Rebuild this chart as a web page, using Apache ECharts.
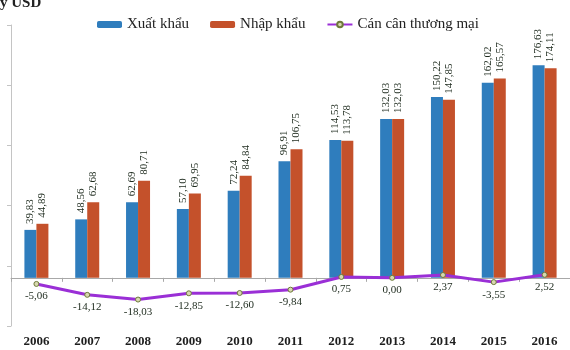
<!DOCTYPE html>
<html><head><meta charset="utf-8">
<script src="https://cdn.jsdelivr.net/npm/echarts@6/dist/echarts.min.js"></script>
<style>html,body{margin:0;padding:0;background:#fff}#c{width:570px;height:350px}</style>
</head><body><div id="c"></div>
<script>
const years = ['2006','2007','2008','2009','2010','2011','2012','2013','2014','2015','2016'];
const exportVals = [39.83, 48.56, 62.69, 57.10, 72.24, 96.91, 114.53, 132.03, 150.22, 162.02, 176.63];
const importVals = [44.89, 62.68, 80.71, 69.95, 84.84, 106.75, 113.78, 132.03, 147.85, 165.57, 174.11];
const balanceVals = [-5.06, -14.12, -18.03, -12.85, -12.60, -9.84, 0.75, 0.00, 2.37, -3.55, 2.52];
const seriesNames = ['Xuất khẩu', 'Nhập khẩu', 'Cán cân thương mại'];
const unitLabel = 'Tỷ USD';

const serif = '"Liberation Serif","DejaVu Serif",serif';
const fmt = v => v.toFixed(2).replace('.', ',');
const chart = echarts.init(document.getElementById('c'));
const barLabel = {
  show: true, position: 'top', rotate: 90, align: 'left', verticalAlign: 'middle',
  distance: 6, fontFamily: serif, fontSize: 11, color: '#1d2a1d',
  formatter: p => fmt(p.value)
};
chart.setOption({
  animation: false,
  backgroundColor: '#fff',
  graphic: [{ type: 'text', left: -10, top: -4, style: { text: unitLabel, font: 'bold 15px ' + serif, fill: '#222' } }],
  legend: {
    top: 12, left: 92, itemWidth: 25, itemHeight: 7, itemGap: 21,
    textStyle: { fontFamily: serif, fontSize: 15, color: '#222' },
    data: seriesNames
  },
  grid: { left: 11, right: -8, top: 25, bottom: 24 },
  xAxis: [
    { type: 'category', data: years, axisLine: { onZero: true, lineStyle: { color: '#a8a8a8' } },
      axisTick: { show: true, length: 4, lineStyle: { color: '#a8a8a8' } }, axisLabel: { show: false } },
    { type: 'category', data: years, position: 'bottom', axisLine: { show: false, onZero: false }, axisTick: { show: false },
      axisLabel: { margin: 9, fontFamily: serif, fontSize: 13, fontWeight: 'bold', color: '#1e1e1e' } }
  ],
  yAxis: {
    type: 'value', min: -40, max: 210, interval: 50,
    axisLine: { show: true, lineStyle: { color: '#c4c4c4' } },
    axisTick: { show: true, length: 4, lineStyle: { color: '#c4c4c4' } },
    axisLabel: { show: false }, splitLine: { show: false }
  },
  series: [
    { name: seriesNames[0], type: 'bar', data: exportVals, barWidth: 12, barGap: '0%', itemStyle: { color: '#2f7dbd' }, label: barLabel },
    { name: seriesNames[1], type: 'bar', data: importVals, barWidth: 12, barGap: '0%', itemStyle: { color: '#c4512b' }, label: barLabel },
    { name: seriesNames[2], type: 'line', data: balanceVals, z: 5,
      lineStyle: { color: '#9a2fd6', width: 3 }, symbol: 'circle', symbolSize: 5,
      itemStyle: { color: '#d8d8b0', borderColor: '#6d7a3a', borderWidth: 1 },
      label: { show: true, position: 'bottom', distance: 4, fontFamily: serif, fontSize: 11, color: '#1d2a1d', formatter: p => fmt(p.value) } }
  ]
});
</script></body></html>
